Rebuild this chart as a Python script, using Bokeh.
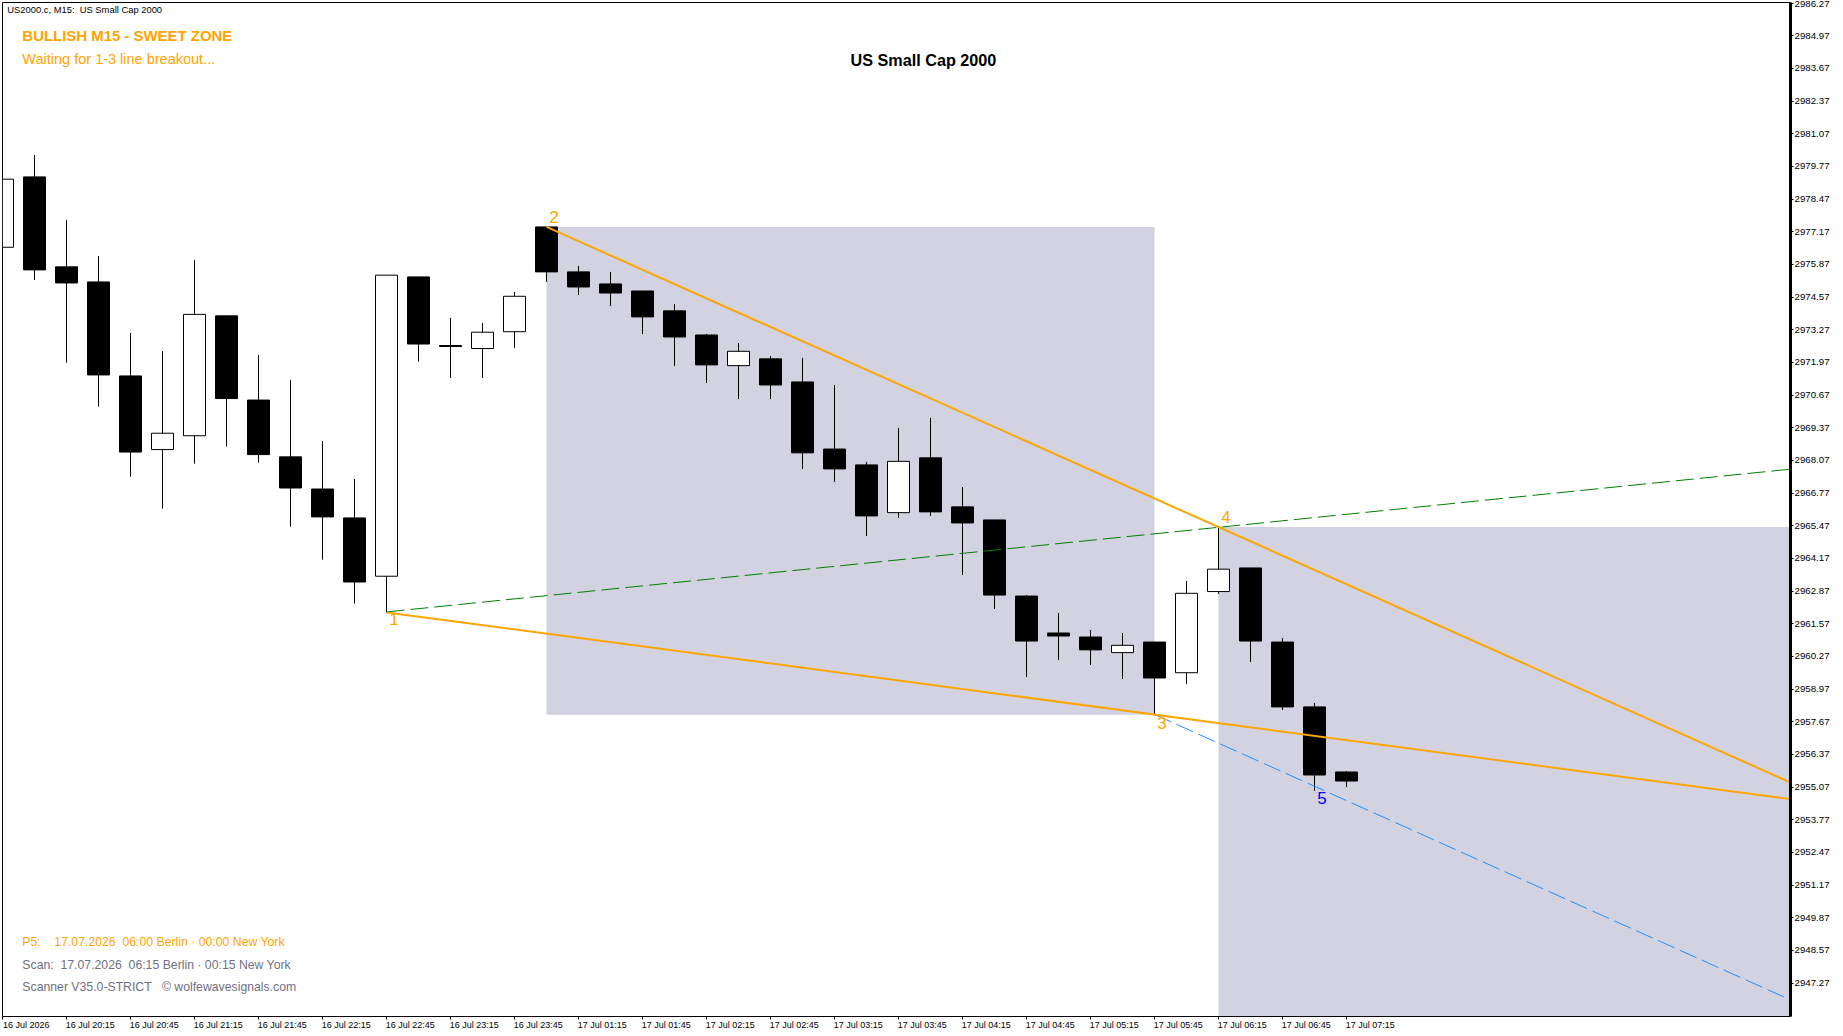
from bokeh.plotting import figure
from bokeh.embed import file_html
from bokeh.resources import INLINE
from bokeh.models import FixedTicker, Range1d, ColumnDataSource, LinearAxis
from bokeh.core.properties import value

bar = list(range(43))
opens = [2976.55,2979.35,2975.77,2975.17,2971.43,2968.50,2969.05,2973.82,2970.47,2968.21,2966.93,2965.78,2963.46,2975.37,2972.64,2972.52,2973.19,2977.36,2975.57,2975.09,2974.81,2974.02,2973.06,2971.84,2972.11,2971.19,2968.52,2967.89,2965.99,2968.17,2966.22,2965.70,2962.67,2961.20,2961.04,2960.42,2960.84,2959.62,2962.85,2963.79,2960.84,2958.26,2955.67]
highs = [2979.26,2980.22,2977.64,2976.20,2973.14,2972.42,2976.04,2973.82,2972.26,2971.27,2968.84,2967.33,2975.44,2975.37,2973.74,2973.54,2974.77,2977.36,2975.81,2975.57,2974.81,2974.29,2973.10,2972.74,2972.22,2972.15,2971.07,2968.01,2969.36,2969.76,2967.01,2965.70,2962.71,2962.00,2961.32,2961.20,2960.84,2963.27,2965.38,2963.79,2961.00,2958.42,2955.71]
lows = [2976.55,2975.25,2971.96,2970.21,2967.42,2966.15,2967.94,2968.62,2967.98,2965.43,2964.12,2962.37,2962.01,2972.00,2971.35,2971.35,2972.54,2975.17,2974.65,2974.21,2973.10,2971.83,2971.15,2970.51,2970.51,2967.73,2967.21,2965.06,2965.78,2965.86,2963.51,2962.16,2959.45,2960.13,2959.93,2959.37,2957.98,2959.17,2962.75,2960.05,2958.14,2954.92,2955.07]
closes = [2979.26,2975.65,2975.13,2971.47,2968.40,2969.15,2973.88,2970.53,2968.30,2966.97,2965.82,2963.23,2975.44,2972.70,2972.60,2973.17,2974.60,2975.57,2974.97,2974.73,2973.78,2972.98,2971.87,2972.41,2971.07,2968.37,2967.73,2965.86,2968.03,2966.02,2965.58,2962.71,2960.88,2961.08,2960.53,2960.71,2959.41,2962.78,2963.74,2960.88,2958.26,2955.55,2955.31]

price_ticks = [2986.27,2984.97,2983.67,2982.37,2981.07,2979.77,2978.47,2977.17,2975.87,2974.57,2973.27,2971.97,2970.67,2969.37,2968.07,2966.77,2965.47,2964.17,2962.87,2961.57,2960.27,2958.97,2957.67,2956.37,2955.07,2953.77,2952.47,2951.17,2949.87,2948.57,2947.27]
time_labels = ["16 Jul 2026","16 Jul 20:15","16 Jul 20:45","16 Jul 21:15","16 Jul 21:45","16 Jul 22:15","16 Jul 22:45","16 Jul 23:15","16 Jul 23:45","17 Jul 01:15","17 Jul 01:45","17 Jul 02:15","17 Jul 02:45","17 Jul 03:15","17 Jul 03:45","17 Jul 04:15","17 Jul 04:45","17 Jul 05:15","17 Jul 05:45","17 Jul 06:15","17 Jul 06:45","17 Jul 07:15"]
time_ticks = [2 * k for k in range(len(time_labels))]
label_shift = 0.74

p1 = (12, 2962.02)
p2 = (17, 2977.36)
p3 = (36, 2957.96)
p4 = (38, 2965.42)
p5 = (41, 2955.12)
x_end = 55.875
upper_end = 2955.25
lower_end = 2954.59
green_start = 2962.04
green_end = 2967.72
blue_end = 2946.60
zone_a = (17, 36, 2977.36, 2957.95)
zone_b = (38, 56, 2965.42, 2945.9)

ORANGE = "#FFA500"
SLATE = "#707080"
ZONE = "#D2D2E1"
TICK_FONT = "Liberation Sans"
NB = "\u00a0"

p = figure(frame_width=1788, frame_height=1014, min_border_left=2, min_border_top=2,
           min_border_right=0, min_border_bottom=0,
           x_range=Range1d(0, x_end), y_range=Range1d(2945.94, 2986.29),
           y_axis_location="right", output_backend="svg", toolbar_location=None,
           background_fill_color="white", border_fill_color="white")
p.grid.visible = False
p.outline_line_color = "black"
p.outline_line_width = 1

p.yaxis.ticker = FixedTicker(ticks=price_ticks)
p.yaxis.major_label_overrides = {v: f"{v:.2f}" for v in price_ticks}
p.yaxis.axis_line_width = 3
p.yaxis.axis_line_color = "black"
p.yaxis.major_tick_out = 3
p.yaxis.major_tick_in = 0
p.yaxis.minor_tick_line_color = None
p.yaxis.major_label_standoff = 1
p.yaxis.major_label_text_font = TICK_FONT
p.yaxis.major_label_text_font_size = "9.7px"
p.yaxis.major_label_text_color = "black"

p.xaxis.ticker = FixedTicker(ticks=time_ticks)
p.xaxis.major_label_overrides = {t: "" for t in time_ticks}
p.xaxis.axis_line_color = "black"
p.xaxis.major_tick_out = 3
p.xaxis.major_tick_in = 0
p.xaxis.minor_tick_line_color = None
p.xaxis.major_label_standoff = 0
p.xaxis.major_label_text_font_size = "1px"

shifted = [t + label_shift for t in time_ticks]
label_axis = LinearAxis(ticker=FixedTicker(ticks=shifted),
                        major_label_overrides=dict(zip(shifted, time_labels)),
                        axis_line_color=None, major_tick_line_color=None, minor_tick_line_color=None,
                        major_tick_out=0, major_tick_in=0, major_label_standoff=0,
                        major_label_text_font=TICK_FONT, major_label_text_font_size="9px",
                        major_label_text_color="black")
p.add_layout(label_axis, "below")

p.quad(left=[zone_a[0], zone_b[0]], right=[zone_a[1], zone_b[1]],
       top=[zone_a[2], zone_b[2]], bottom=[zone_a[3], zone_b[3]],
       fill_color=ZONE, line_color=None)

p.segment(x0=bar, x1=bar, y0=lows, y1=highs, line_color="black", line_width=1)
colors = ["white" if c > o else "black" for o, c in zip(opens, closes)]
tops = [max(o, c) for o, c in zip(opens, closes)]
bots = [min(o, c) for o, c in zip(opens, closes)]
src = ColumnDataSource(dict(x=bar, top=tops, bottom=bots, fill=colors))
p.vbar(x="x", top="top", bottom="bottom", width=0.6875, fill_color="fill", line_color="black", line_width=1, source=src)

p.line([p1[0], x_end], [green_start, green_end], line_color="#008000", line_width=1, line_dash="18 6")
p.line([p3[0], x_end], [p3[1], blue_end], line_color="#1E90FF", line_width=1, line_dash="18 6")
p.line([p2[0], x_end], [p2[1], upper_end], line_color=ORANGE, line_width=2)
p.line([p1[0], x_end], [p1[1], lower_end], line_color=ORANGE, line_width=2)

def txt(x, y, s, color, size, bold=False, align="left"):
    p.text([x], [y], text=[s.replace("  ", NB + NB)], text_color=color, text_font=value("Liberation Sans"),
           text_font_size=size, text_baseline="middle", text_align=align,
           text_font_style="bold" if bold else "normal")

txt(0.15, 2986.03, "US2000.c, M15:  US Small Cap 2000", "black", "9.4px")
txt(0.62, 2984.98, "BULLISH M15 - SWEET ZONE", ORANGE, "14.95px", True)
txt(0.62, 2984.03, "Waiting for 1-3 line breakout...", ORANGE, "14.5px")
txt(28.78, 2984.00, "US Small Cap 2000", "black", "16.2px", True, "center")
txt(0.62, 2948.90, "P5:    17.07.2026  06:00 Berlin · 00:00 New York", ORANGE, "12.25px")
txt(0.62, 2948.00, "Scan:  17.07.2026  06:15 Berlin · 00:15 New York", SLATE, "12.25px")
txt(0.62, 2947.13, "Scanner V35.0-STRICT   © wolfewavesignals.com".replace("   ", NB * 3), SLATE, "12.25px")
for lab, xp, yp, col in [("1", 12.23, 2961.74, ORANGE), ("2", 17.23, 2977.74, ORANGE),
                         ("3", 36.23, 2957.60, ORANGE), ("4", 38.23, 2965.80, ORANGE),
                         ("5", 41.23, 2954.62, "#0000FF")]:
    txt(xp, yp, lab, col, "17px", False, "center")

open("out.html", "w").write(file_html(p, INLINE))
